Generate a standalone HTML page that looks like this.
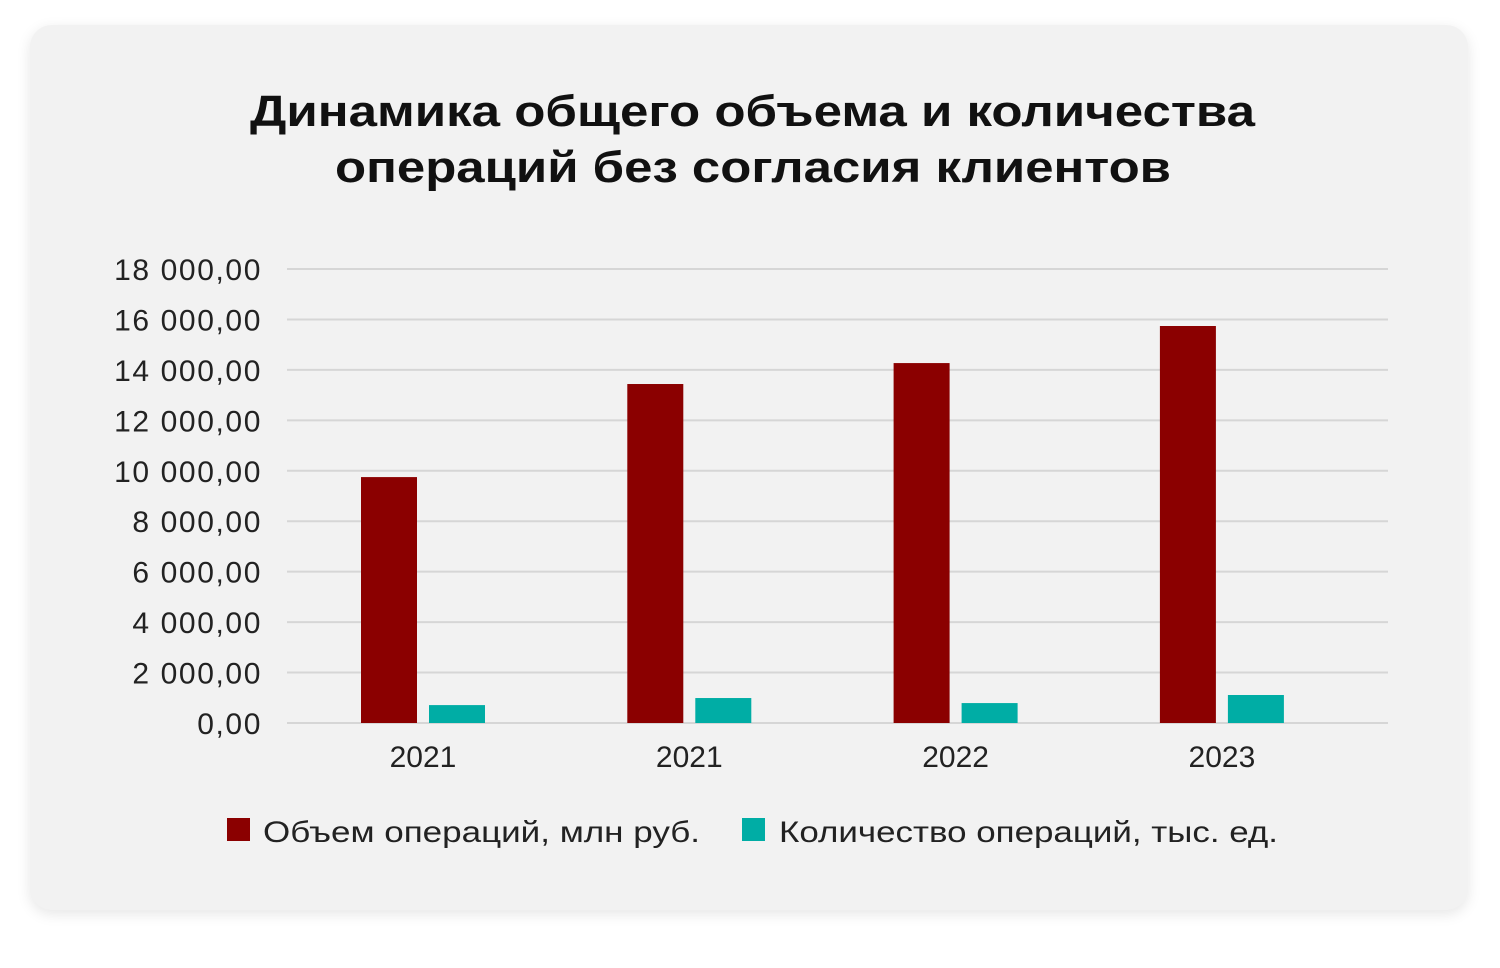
<!DOCTYPE html>
<html><head><meta charset="utf-8"><style>
body{margin:0;width:1500px;height:968px;background:#fff;overflow:hidden;font-family:"Liberation Sans",sans-serif}
#card{position:absolute;left:30px;top:25px;width:1438px;height:885px;background:#f2f2f2;border-radius:22px;box-shadow:0 4px 14px rgba(0,0,0,0.10)}
</style></head><body>
<div id="card"></div>
<svg id="chart" width="1500" height="968" style="position:absolute;left:0;top:0">
<text x="250" y="126" textLength="1005" lengthAdjust="spacingAndGlyphs" font-size="44" font-weight="bold" fill="#111">Динамика общего объема и количества</text>
<text x="335" y="182" textLength="836" lengthAdjust="spacingAndGlyphs" font-size="44" font-weight="bold" fill="#111">операций без согласия клиентов</text>
<g id="grid"></g><g id="bars"></g><g id="xlabels"></g>
<rect x="227" y="818" width="23" height="23" fill="#8b0000"/>
<text x="263" y="842" textLength="437" lengthAdjust="spacingAndGlyphs" font-size="30" fill="#222">Объем операций, млн руб.</text>
<rect x="742" y="818" width="23" height="23" fill="#00ada5"/>
<text x="779" y="842" textLength="499" lengthAdjust="spacingAndGlyphs" font-size="30" fill="#222">Количество операций, тыс. ед.</text>
</svg>
<script>
const categories=["2021","2021","2022","2023"];
const volume=[9750,13440,14270,15740];
const count=[710,990,790,1110];
const yTicks=[0,2000,4000,6000,8000,10000,12000,14000,16000,18000];
const tickLabels=["0,00","2 000,00","4 000,00","6 000,00","8 000,00","10 000,00","12 000,00","14 000,00","16 000,00","18 000,00"];
const NS="http://www.w3.org/2000/svg";
const y=v=>723-v/18000*454;
const x=i=>423+i*266.3;
function mk(tag,attrs,parent){const e=document.createElementNS(NS,tag);for(const k in attrs)e.setAttribute(k,attrs[k]);document.getElementById(parent).appendChild(e);return e;}
yTicks.forEach((t,i)=>{
 const l=mk('line',{x1:287,x2:1388,y1:y(t),y2:y(t),stroke:'#d6d6d6','stroke-width':2},'grid');
 
 
 const tx=mk('text',{x:262,y:y(t)+11,'text-anchor':'end','font-size':30,fill:'#222','letter-spacing':'1.6'},'grid');
 tx.textContent=tickLabels[i];
 
 
});
categories.forEach((c,i)=>{
 const r1=mk('rect',{x:x(i)-62,y:y(volume[i]),width:56,height:y(0)-y(volume[i]),fill:'#8b0000'},'bars');
 
 
 const r2=mk('rect',{x:x(i)+6,y:y(count[i]),width:56,height:y(0)-y(count[i]),fill:'#00ada5'},'bars');
 
 
 const t=mk('text',{x:x(i),y:767,'text-anchor':'middle','font-size':30,fill:'#222'},'xlabels');
 t.textContent=c;
 
 
});
</script>
</body></html>
